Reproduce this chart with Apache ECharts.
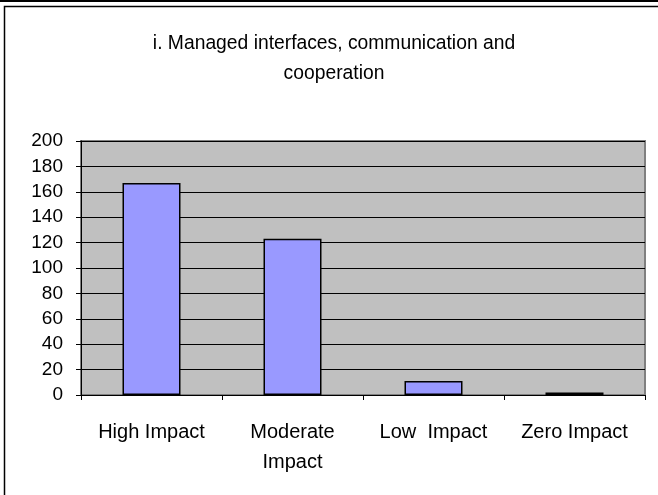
<!DOCTYPE html>
<html>
<head>
<meta charset="utf-8">
<script src="https://cdn.jsdelivr.net/npm/echarts@6/dist/echarts.min.js"></script>
<style>
  html, body { margin: 0; padding: 0; background: #fff; }
  #chart { width: 658px; height: 495px; }
</style>
</head>
<body>
<div id="chart"></div>
<script>
// Responses per impact level
const categories = ['High Impact', 'Moderate\nImpact', 'Low  Impact', 'Zero Impact'];
const counts = [167, 123, 11, 2];
const yTicks = { min: 0, max: 200, step: 20 };
const titleText = 'i. Managed interfaces, communication and\ncooperation';

const FONT = 'Liberation Sans, Arial, sans-serif';

const chart = echarts.init(document.getElementById('chart'), null, { renderer: 'canvas' });

chart.setOption({
  animation: false,
  backgroundColor: '#ffffff',
  title: {
    text: titleText,
    left: 329,
    top: 24,
    textAlign: 'center',
    textStyle: {
      fontFamily: FONT,
      fontSize: 19.3,
      fontWeight: 'normal',
      color: '#000',
      lineHeight: 30
    }
  },
  graphic: [
    // thin strip along the top edge
    { type: 'rect', shape: { x: 1, y: -20, width: 700, height: 21 },
      style: { fill: 'none', stroke: '#000', lineWidth: 2 }, silent: true },
    // outer frame
    { type: 'rect', shape: { x: 4.5, y: 6.5, width: 700, height: 600 },
      style: { fill: 'none', stroke: '#000', lineWidth: 1.5 }, silent: true }
  ],
  grid: {
    left: 81,
    right: 13,
    top: 141,
    bottom: 100,
    show: true,
    backgroundColor: '#C0C0C0',
    borderColor: '#808080',
    borderWidth: 2
  },
  xAxis: {
    type: 'category',
    data: categories,
    axisLine: { lineStyle: { color: '#000', width: 1 } },
    axisTick: { show: true, length: 5, lineStyle: { color: '#000' } },
    axisLabel: {
      fontFamily: FONT,
      fontSize: 20,
      color: '#000',
      margin: 22,
      lineHeight: 30,
      interval: 0
    }
  },
  yAxis: {
    type: 'value',
    min: yTicks.min,
    max: yTicks.max,
    interval: yTicks.step,
    axisLine: { show: true, lineStyle: { color: '#000', width: 1 } },
    axisTick: { show: true, length: 5, lineStyle: { color: '#000' } },
    axisLabel: {
      fontFamily: FONT,
      fontSize: 19,
      color: '#000',
      margin: 18
    },
    splitLine: { show: true, lineStyle: { color: '#000', width: 1 } }
  },
  series: [{
    type: 'bar',
    data: counts,
    barWidth: 58,
    itemStyle: {
      color: '#9999FF',
      borderColor: '#000',
      borderWidth: 1.5
    }
  }]
});
</script>
</body>
</html>
